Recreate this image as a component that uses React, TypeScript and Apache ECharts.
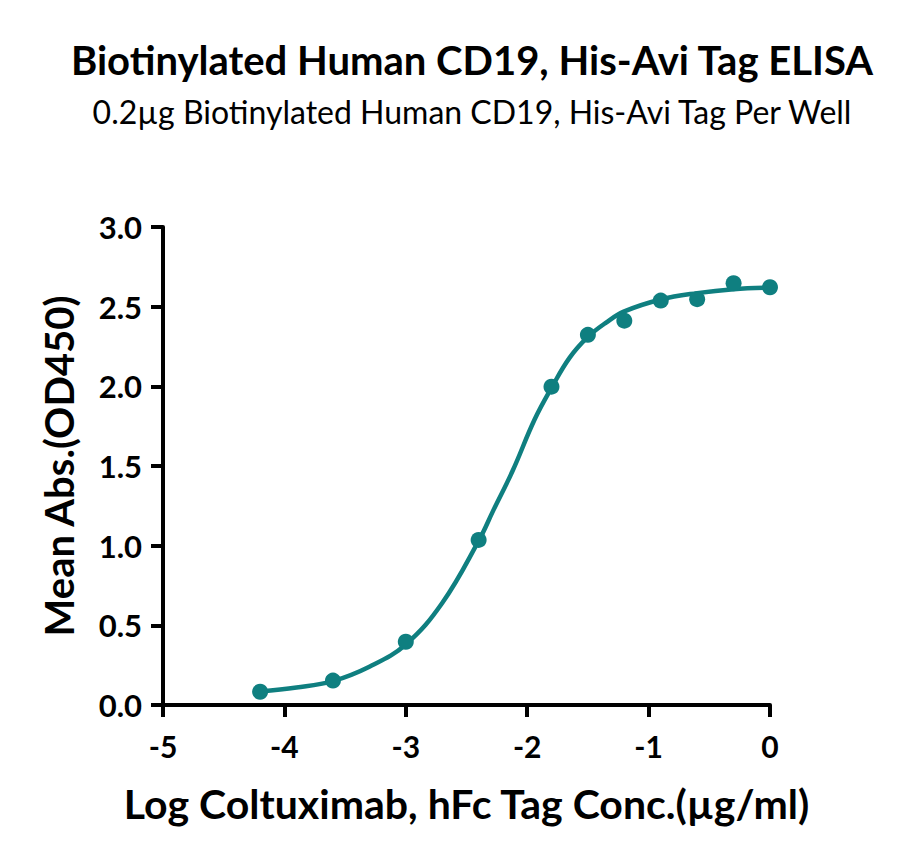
import React, { useEffect, useRef } from 'react';
import * as echarts from 'echarts';

// measured points (log concentration, OD450)
const logConc: number[] = [-4.2, -3.6, -3.0, -2.4, -1.8, -1.5, -1.2, -0.9, -0.6, -0.3, 0];
const meanAbs: number[] = [0.083, 0.153, 0.397, 1.036, 1.998, 2.323, 2.412, 2.538, 2.547, 2.647, 2.622];

// fitted curve
const curveX: number[] = [-4.2, -3.9, -3.6, -3.3, -3.0, -2.7, -2.4, -2.28, -2.12, -1.94, -1.8, -1.65, -1.5, -1.35, -1.2, -0.9, -0.6, -0.3, 0];
const curveY: number[] = [0.085, 0.11, 0.15, 0.24, 0.38, 0.64, 1.03, 1.22, 1.47, 1.79, 1.99, 2.18, 2.31, 2.4, 2.47, 2.545, 2.585, 2.61, 2.62];

const xTicks: number[] = [-5, -4, -3, -2, -1, 0];
const yTicks: number[] = [0, 0.5, 1, 1.5, 2, 2.5, 3];

const TEAL = '#0f7f80';
const FONT = 'Lato';

const App: React.FC = () => {
  const chartRef = useRef<HTMLDivElement | null>(null);

  useEffect(() => {
    const chart = echarts.init(chartRef.current!, null, { renderer: 'svg' });

    const axisLine = { show: true, onZero: false, lineStyle: { color: '#000', width: 4 } };
    const axisTick = { show: true, length: 12, lineStyle: { color: '#000', width: 4 } };

    const option = {
      animation: false,
      backgroundColor: '#fff',
      title: [
        {
          text: 'Biotinylated Human CD19, His-Avi Tag ELISA',
          left: 467,
          top: 35,
          textAlign: 'center',
          textStyle: { fontFamily: FONT, fontSize: 40, fontWeight: 'bold', color: '#000' }
        },
        {
          text: '0.2µg Biotinylated Human CD19, His-Avi Tag Per Well',
          left: 467,
          top: 90,
          textAlign: 'center',
          textStyle: { fontFamily: FONT, fontSize: 32, fontWeight: 'normal', color: '#000' }
        }
      ],
      grid: { left: 163, right: 130, top: 227, bottom: 158 },
      xAxis: {
        type: 'value',
        min: xTicks[0],
        max: xTicks[xTicks.length - 1],
        interval: 1,
        axisLine,
        axisTick,
        splitLine: { show: false },
        axisLabel: { margin: 26, fontFamily: FONT, fontSize: 30, fontWeight: 'bold', color: '#000' },
        name: 'Log Coltuximab, hFc Tag Conc.(µg/ml)',
        nameLocation: 'middle',
        nameGap: 78,
        nameTextStyle: { fontFamily: FONT, fontSize: 41, fontWeight: 'bold', color: '#000' }
      },
      yAxis: {
        type: 'value',
        min: yTicks[0],
        max: yTicks[yTicks.length - 1],
        interval: 0.5,
        axisLine,
        axisTick,
        splitLine: { show: false },
        axisLabel: {
          margin: 21,
          fontFamily: FONT,
          fontSize: 31,
          fontWeight: 'bold',
          color: '#000',
          formatter: (v: number) => v.toFixed(1)
        },
        name: 'Mean Abs.(OD450)',
        nameLocation: 'middle',
        nameGap: 84,
        nameTextStyle: { fontFamily: FONT, fontSize: 40, fontWeight: 'bold', color: '#000' }
      },
      series: [
        {
          type: 'line',
          data: curveX.map((x, i) => [x, curveY[i]]),
          smooth: 0.4,
          showSymbol: false,
          lineStyle: { color: TEAL, width: 4.5 },
          z: 2
        },
        {
          type: 'scatter',
          data: logConc.map((x, i) => [x, meanAbs[i]]),
          symbol: 'circle',
          symbolSize: 16,
          itemStyle: { color: TEAL, opacity: 1 },
          z: 3
        }
      ]
    };

    chart.setOption(option);
    return () => chart.dispose();
  }, []);

  return <div ref={chartRef} style={{ width: 900, height: 863, margin: -8 }} />;
};

export default App;
